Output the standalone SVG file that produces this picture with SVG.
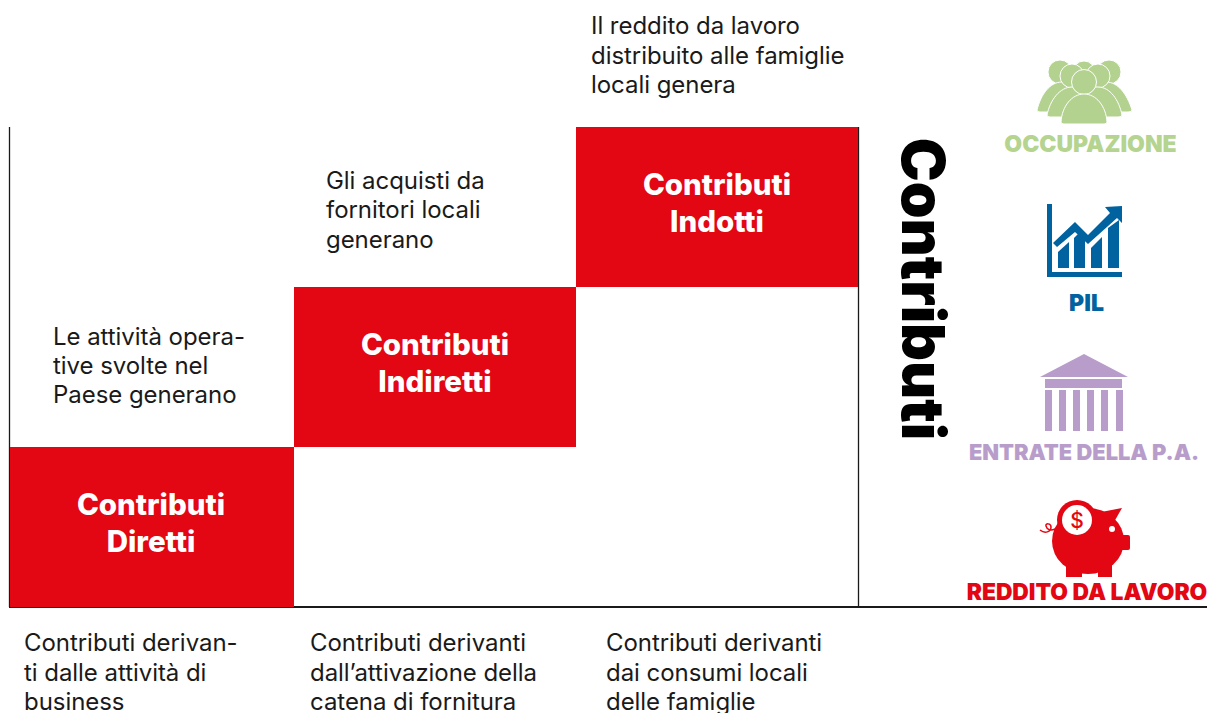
<svg xmlns="http://www.w3.org/2000/svg" width="1207" height="713" viewBox="0 0 1207 713">
<style>
text{font-family:Inter,"Liberation Sans",sans-serif}
.b{font-size:24px;fill:#1a1a1a;font-weight:400;letter-spacing:-0.05px}
.h{font-size:29.500px;font-weight:800;fill:#fff;text-anchor:middle}
.l{font-weight:900;text-anchor:middle}
.sq{fill:#e30613}
.ax{stroke:#1a1a1a;fill:none}
</style>
<rect width="1207" height="713" fill="#fff"/>
<g id="connectors">
<path class="ax" stroke-width="1.3" d="M9.500 127V607M858.500 127V607"/>
<path class="ax" stroke-width="2" d="M9 607H1207"/>
</g>
<g id="node-diretti"><rect class="sq" x="10" y="447" width="284" height="160"/><text class="h" x="151" y="514.500">Contributi</text><text class="h" x="151" y="551.500">Diretti</text></g>
<g id="node-indiretti"><rect class="sq" x="294" y="287" width="282" height="160"/><text class="h" x="435" y="354.500">Contributi</text><text class="h" x="435" y="391.500">Indiretti</text></g>
<g id="node-indotti"><rect class="sq" x="576" y="127" width="282" height="160"/><text class="h" x="717" y="194.500">Contributi</text><text class="h" x="717" y="231.500">Indotti</text></g>
<g id="text-top">
<text class="b" x="591" y="34">Il reddito da lavoro</text><text class="b" x="591" y="64">distribuito alle famiglie</text><text class="b" x="591" y="93">locali genera</text>
<text class="b" x="326" y="189">Gli acquisti da</text><text class="b" x="326" y="218">fornitori locali</text><text class="b" x="326" y="248">generano</text>
<text class="b" x="53" y="344.500">Le attività opera-</text><text class="b" x="53" y="373.500">tive svolte nel</text><text class="b" x="53" y="402.500">Paese generano</text>
</g>
<g id="text-bottom">
<text class="b" x="24" y="651">Contributi derivan-</text><text class="b" x="24" y="681">ti dalle attività di</text><text class="b" x="24" y="710">business</text>
<text class="b" x="310" y="651">Contributi derivanti</text><text class="b" x="310" y="681">dall’attivazione della</text><text class="b" x="310" y="710">catena di fornitura</text>
<text class="b" x="606" y="651">Contributi derivanti</text><text class="b" x="606" y="681">dai consumi locali</text><text class="b" x="606" y="710">delle famiglie</text>
</g>
<g id="node-contributi"><text transform="translate(901.500 289) rotate(90)" text-anchor="middle" style="font-size:58.800px;font-weight:900;fill:#000">Contributi</text></g>
<g id="node-occupazione">
<g fill="#b3d28f" stroke="#fff" stroke-width="1">
<circle cx="1060" cy="72" r="12"/><circle cx="1084" cy="72" r="11"/><circle cx="1109" cy="72" r="12"/>
<path d="M1037 110C1041 94 1050 82 1062 82L1106 82C1118 82 1127 94 1132 110Q1132 112 1128 112H1040Q1037 112 1037 110Z"/>
<circle cx="1072" cy="76" r="12"/><circle cx="1098" cy="76" r="12"/>
<path d="M1047 115C1050 100 1060 87 1072 87L1098 87C1110 87 1119 100 1122 115Q1122 117 1118 117H1050Q1047 117 1047 115Z"/>
<circle cx="1084" cy="82" r="12.500"/>
<path d="M1061 122C1062 106 1072 94 1084 94C1096 94 1106 106 1107 122Q1107 124 1104 124H1064Q1061 124 1061 122Z"/>
</g>
<text class="l" x="1090.500" y="152" fill="#b5d48f" style="font-size:23px">OCCUPAZIONE</text>
</g>
<g id="node-pil" fill="#00629f">
<path d="M1047 204H1052V272H1122V277H1047Z"/>
<path d="M1058 268V252L1069 242V268Z"/><path d="M1074 268V238L1079 233L1085 239V268Z"/><path d="M1091 268V248L1102 237V268Z"/><path d="M1108 268V228L1119 220V268Z"/>
<path d="M1053 243L1075 222L1088 235L1110 213L1105 207L1122 206V223L1117 218L1088 244L1075 232L1057 247Z"/>
<text class="l" x="1086.500" y="311" style="font-size:23px">PIL</text>
</g>
<g id="node-entrate" fill="#b89dcb">
<path d="M1040 377L1084 354L1128 377Z"/><rect x="1045" y="379" width="77" height="9"/>
<rect x="1045" y="390" width="7" height="41"/><rect x="1059" y="390" width="7" height="41"/><rect x="1073" y="390" width="7" height="41"/><rect x="1087" y="390" width="7" height="41"/><rect x="1101" y="390" width="7" height="41"/><rect x="1116" y="390" width="7" height="41"/>
<text class="l" x="1084" y="460" style="font-size:21.800px">ENTRATE DELLA P.A.</text>
</g>
<g id="node-reddito" fill="#e30613">
<circle cx="1077" cy="520" r="20"/>
<ellipse cx="1088" cy="541" rx="36" ry="33"/>
<path d="M1096 513L1122 508L1114 522Z"/>
<rect x="1120" y="535" width="10" height="15" rx="2"/>
<path d="M1066 565H1082V577H1066ZM1098 565H1112V577H1098Z"/>
<circle cx="1077" cy="520" r="15" fill="#fff"/>
<circle cx="1112" cy="529" r="3" fill="#fff"/>
<path d="M1055 529C1051 531 1047 530 1046 526C1045 523 1051 523 1051 527C1051 532 1045 534 1040 530" fill="none" stroke="#e30613" stroke-width="1.500"/>
<text x="1077" y="528" text-anchor="middle" style="font-size:21px;font-weight:500">$</text>
<text class="l" x="1087" y="600" style="font-size:22.800px">REDDITO DA LAVORO</text>
</g>
</svg>
